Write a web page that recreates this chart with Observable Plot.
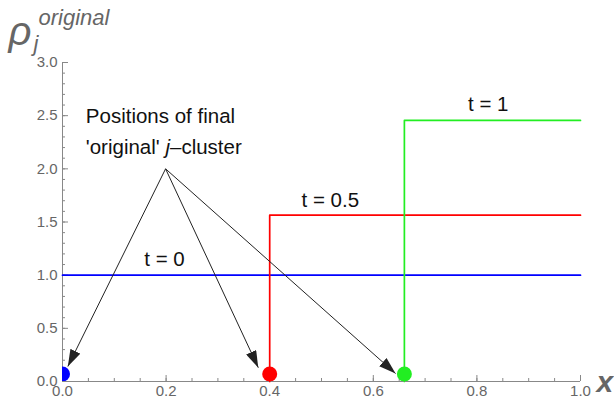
<!DOCTYPE html>
<html><head><meta charset="utf-8">
<script src="https://cdn.jsdelivr.net/npm/d3@7"></script>
<script src="https://cdn.jsdelivr.net/npm/@observablehq/plot@0.6"></script>
<style>body{margin:0;background:#fff} svg{display:block}</style>
</head><body><div id="chart"></div>
<script>
// ---- data ----
const xTicks = [0, 0.2, 0.4, 0.6, 0.8, 1.0];
const yTicks = [0, 0.5, 1.0, 1.5, 2.0, 2.5, 3.0];
const series = ["t = 0", "t = 0.5", "t = 1"];
const colors = ["#0000ff", "#ff0000", "#22ee22"];
const jumpX = [0, 0.4, 0.66];          // x where the step rises
const level = [1.0, 1.564, 2.455];     // density level after the step
const dotY = [0.07, 0.07, 0.07];       // cluster markers on the axis
const labelX = [0.197, 0.517, 0.822];
const labelY = [1.15, 1.70, 2.61];
const arrowFrom = {x: 0.199, y: 2.0};
const arrowTipX = [0.0103, 0.378, 0.643];
const arrowTipY = [0.141, 0.13, 0.075];
const noteLines = ["Positions of final", "'original' j\u2013cluster"];
const noteX = 0.045;
const noteY = [2.49, 2.205];

// ---- derived tables ----
const xMinor = d3.range(0, 1.0001, 0.05).map(v => +v.toFixed(2));
const yMinor = d3.range(0, 3.0001, 0.1).map(v => +v.toFixed(1));
const steps = [];
series.forEach((s, i) => {
  if (jumpX[i] > 0) steps.push({s, x: jumpX[i], y: 0});
  steps.push({s, x: jumpX[i], y: level[i]});
  steps.push({s, x: 1, y: level[i]});
});
const dots = series.map((s, i) => ({s, x: jumpX[i], y: dotY[i]}));
const labels = series.map((s, i) => ({s, x: labelX[i], y: labelY[i]}));
const arrows = arrowTipX.map((x, i) => ({x1: arrowFrom.x, y1: arrowFrom.y, x2: x, y2: arrowTipY[i]}));
const notes = noteLines.map((t, i) => ({t, x: noteX, y: noteY[i]}));

const fmt = d3.format(".1f");
const gray = "#666";
const font = "Liberation Sans, Arial, Helvetica, sans-serif";

function filledHead(color, context) {
  const doc = context.document;
  const ns = "http://www.w3.org/2000/svg";
  const m = doc.createElementNS(ns, "marker");
  m.setAttribute("viewBox", "0 -5.5 17 11");
  m.setAttribute("markerWidth", 17);
  m.setAttribute("markerHeight", 11);
  m.setAttribute("markerUnits", "userSpaceOnUse");
  m.setAttribute("refX", 17);
  m.setAttribute("refY", 0);
  m.setAttribute("orient", "auto");
  const p = doc.createElementNS(ns, "path");
  p.setAttribute("d", "M0,-5.5L17,0L0,5.5Z");
  p.setAttribute("fill", color);
  p.setAttribute("stroke", "none");
  m.appendChild(p);
  return m;
}

function build(useMarker) {
  const arrowMark = useMarker
    ? Plot.link(arrows, {x1: "x1", y1: "y1", x2: "x2", y2: "y2", stroke: "#222", strokeWidth: 1, markerEnd: filledHead})
    : Plot.arrow(arrows, {x1: "x1", y1: "y1", x2: "x2", y2: "y2", stroke: "#222", strokeWidth: 1, headLength: 12});
  return Plot.plot({
    width: 614, height: 400,
    marginTop: 62, marginBottom: 19, marginLeft: 62, marginRight: 34,
    style: {fontFamily: font, fontSize: "15px", background: "#fff", overflow: "visible"},
    x: {domain: [0, 1]},
    y: {domain: [0, 3]},
    color: {domain: series, range: colors},
    marks: [
      Plot.ruleY([0], {stroke: "#888"}),
      Plot.ruleX([0], {stroke: "#888"}),
      Plot.axisX(xMinor, {tickSize: -3, text: null, stroke: "#888"}),
      Plot.axisX(xTicks, {tickSize: -6, tickPadding: 10, tickFormat: fmt, fill: gray, stroke: "#888", fontSize: 15}),
      Plot.axisY(yMinor, {tickSize: -3, text: null, stroke: "#888"}),
      Plot.axisY(yTicks, {tickSize: -6, tickPadding: 11, tickFormat: fmt, fill: gray, stroke: "#888", fontSize: 15}),
      Plot.line(steps, {x: "x", y: "y", z: "s", stroke: "s", strokeWidth: 1.7}),
      Plot.dot(dots, {x: "x", y: "y", fill: "s", r: 7.5, clip: true}),
      arrowMark,
      Plot.text(labels, {x: "x", y: "y", text: "s", fontSize: 20.5, fill: "#111", textAnchor: "middle", lineAnchor: "middle"}),
      Plot.text(notes, {x: "x", y: "y", text: "t", fontSize: 20.5, fill: "#111", textAnchor: "start", lineAnchor: "middle"}),
      Plot.text(["\u03c1"], {frameAnchor: "top-left", dx: -54, dy: -18, lineAnchor: "bottom", textAnchor: "start", fontSize: 40, fontStyle: "italic", fill: gray}),
      Plot.text(["j"], {frameAnchor: "top-left", dx: -29, dy: -12, lineAnchor: "bottom", textAnchor: "start", fontSize: 22, fontStyle: "italic", fill: gray}),
      Plot.text(["original"], {frameAnchor: "top-left", dx: -24, dy: -38, lineAnchor: "bottom", textAnchor: "start", fontSize: 22, fontStyle: "italic", fill: gray}),
      Plot.text(["x"], {frameAnchor: "bottom-right", dx: 16, dy: 10, lineAnchor: "bottom", textAnchor: "start", fontSize: 30, fontStyle: "italic", fontWeight: "bold", fill: gray})
    ]
  });
}

let chart;
try { chart = build(true); } catch (e) { chart = build(false); }
// italicise the "j" inside the annotation using tspans
d3.select(chart).selectAll("text").each(function() {
  const el = d3.select(this);
  if (el.text() === noteLines[1]) {
    const parts = noteLines[1].split("j");
    el.text(null);
    el.append("tspan").text(parts[0]);
    el.append("tspan").attr("font-style", "italic").text("j");
    el.append("tspan").text(parts[1]);
  }
});
document.getElementById("chart").appendChild(chart);
</script>
</body></html>
